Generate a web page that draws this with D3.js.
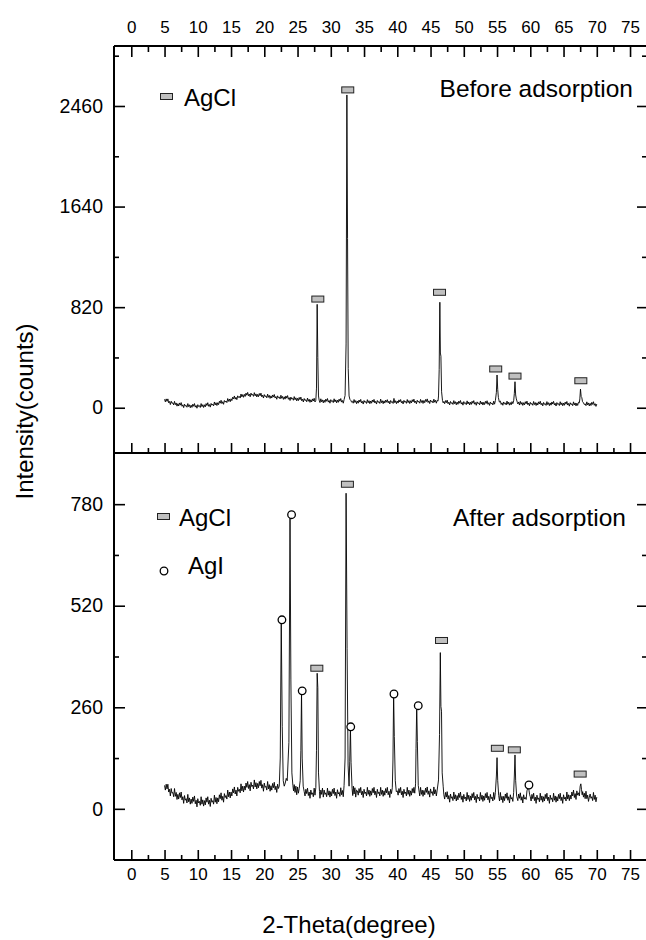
<!DOCTYPE html>
<html>
<head>
<meta charset="utf-8">
<script src="https://cdn.jsdelivr.net/npm/d3@7"></script>
<style>
html, body { margin: 0; padding: 0; background: #fff; }
svg { display: block; font-family: "Liberation Sans", Arial, Helvetica, sans-serif; }
</style>
</head>
<body>
<svg id="chart" width="646" height="940"></svg>
<script>
// XRD scan before adsorption: [2-theta (deg), intensity (counts)]
const beforeScan = [
[5.0,69],[5.125,48],[5.25,72],[5.375,52],[5.5,72],[5.625,40],[5.75,51],[5.875,26],
[6.0,53],[6.125,36],[6.25,40],[6.375,23],[6.5,52],[6.625,25],[6.75,39],[6.875,13],
[7.0,33],[7.125,14],[7.25,39],[7.375,21],[7.5,42],[7.625,12],[7.75,24],[7.875,1],
[8.0,29],[8.125,14],[8.25,19],[8.375,4],[8.5,34],[8.625,9],[8.75,24],[8.875,0],
[9.0,21],[9.125,3],[9.25,29],[9.375,12],[9.5,34],[9.625,5],[9.75,18],[9.875,-4],
[10.0,25],[10.125,10],[10.25,17],[10.375,2],[10.5,34],[10.625,9],[10.75,25],[10.875,2],
[11.0,24],[11.125,7],[11.25,34],[11.375,18],[11.5,41],[11.625,12],[11.75,26],[11.875,5],
[12.0,35],[12.125,21],[12.25,29],[12.375,15],[12.5,47],[12.625,23],[12.75,41],[12.875,18],
[13.0,41],[13.125,25],[13.25,53],[13.375,37],[13.5,61],[13.625,34],[13.75,49],[13.875,28],
[14.0,59],[14.125,46],[14.25,55],[14.375,42],[14.5,75],[14.625,52],[14.75,71],[14.875,49],
[15.0,73],[15.125,58],[15.25,86],[15.375,72],[15.5,96],[15.625,70],[15.75,85],[15.875,66],
[16.0,97],[16.125,84],[16.25,92],[16.375,79],[16.5,112],[16.625,89],[16.75,107],[16.875,85],
[17.0,109],[17.125,92],[17.25,119],[17.375,102],[17.5,125],[17.625,97],[17.75,111],[17.875,89],
[18.0,119],[18.125,103],[18.25,109],[18.375,93],[18.5,123],[18.625,97],[18.75,113],[18.875,88],
[19.0,109],[19.125,90],[19.25,116],[19.375,98],[19.5,119],[19.625,89],[19.75,102],[19.875,79],
[20.0,107],[20.125,91],[20.25,97],[20.375,81],[20.5,111],[20.625,85],[20.75,101],[20.875,76],
[21.0,97],[21.125,79],[21.25,104],[21.375,87],[21.5,108],[21.625,79],[21.75,91],[21.875,69],
[22.0,97],[22.125,82],[22.25,87],[22.375,72],[22.5,102],[22.625,77],[22.75,92],[22.875,68],
[23.0,89],[23.125,70],[23.25,96],[23.375,78],[23.5,99],[23.625,69],[23.75,82],[23.875,59],
[24.0,87],[24.125,71],[24.25,77],[24.375,61],[24.5,91],[24.625,65],[24.75,81],[24.875,56],
[25.0,77],[25.125,58],[25.25,84],[25.375,66],[25.5,87],[25.625,57],[25.75,70],[25.875,47],
[26.0,75],[26.125,59],[26.25,65],[26.375,49],[26.5,79],[26.625,53],[26.75,69],[26.875,44],
[27.0,65],[27.125,47],[27.25,72],[27.375,55],[27.5,77],[27.625,47],[27.75,60],
[27.85,160],[27.95,843],[28.05,410],[28.15,96],[28.25,62],[28.375,42],
[28.5,73],[28.625,48],[28.75,64],[28.875,40],
[29.0,62],[29.125,44],[29.25,70],[29.375,53],[29.5,75],[29.625,46],[29.75,59],[29.875,37],
[30.0,66],[30.125,51],[30.25,57],[30.375,42],[30.5,73],[30.625,48],[30.75,64],[30.875,40],
[31.0,62],[31.125,44],[31.25,70],[31.375,53],[31.5,75],[31.625,46],[31.75,59],[31.875,37],
[32.0,66],[32.15,100],
[32.3,520],[32.42,2550],[32.52,1380],[32.62,320],[32.75,96],[32.875,68],
[33.0,61],[33.125,46],[33.25,52],[33.375,37],[33.5,67],[33.625,43],[33.75,58],[33.875,33],
[34.0,55],[34.125,37],[34.25,63],[34.375,46],[34.5,68],[34.625,39],[34.75,52],[34.875,30],
[35.0,59],[35.125,44],[35.25,50],[35.375,35],[35.5,66],[35.625,41],[35.75,57],[35.875,33],
[36.0,55],[36.125,37],[36.25,63],[36.375,46],[36.5,68],[36.625,39],[36.75,52],[36.875,30],
[37.0,59],[37.125,44],[37.25,50],[37.375,35],[37.5,70],[37.625,41],[37.75,57],[37.875,33],
[38.0,56],[38.125,38],[38.25,62],[38.375,45],[38.5,66],[38.625,40],[38.75,54],[38.875,31],
[39.0,59],[39.125,44],[39.25,50],[39.375,35],[39.5,76],[39.625,41],[39.75,57],[39.875,33],
[40.0,54],[40.125,38],[40.25,64],[40.375,47],[40.5,67],[40.625,40],[40.75,53],[40.875,31],
[41.0,60],[41.125,45],[41.25,51],[41.375,36],[41.5,67],[41.625,42],[41.75,58],[41.875,34],
[42.0,57],[42.125,39],[42.25,65],[42.375,48],[42.5,70],[42.625,41],[42.75,54],[42.875,32],
[43.0,61],[43.125,46],[43.25,52],[43.375,37],[43.5,68],[43.625,43],[43.75,59],[43.875,35],
[44.0,59],[44.125,41],[44.25,67],[44.375,50],[44.5,72],[44.625,43],[44.75,56],[44.875,34],
[45.0,63],[45.125,48],[45.25,54],[45.375,39],[45.5,70],[45.625,45],[45.75,61],[45.875,37],
[46.0,60],[46.125,54],[46.2,96],
[46.3,310],[46.4,860],[46.48,446],[46.56,420],[46.66,130],[46.8,58],[46.9,40],
[47.0,51],[47.125,33],[47.25,58],[47.375,41],[47.5,62],[47.625,33],[47.75,45],[47.875,23],
[48.0,51],[48.125,36],[48.25,42],[48.375,27],[48.5,58],[48.625,33],[48.75,49],[48.875,24],
[49.0,46],[49.125,28],[49.25,54],[49.375,37],[49.5,59],[49.625,30],[49.75,43],[49.875,21],
[50.0,50],[50.125,34],[50.25,40],[50.375,25],[50.5,56],[50.625,31],[50.75,47],[50.875,23],
[51.0,45],[51.125,27],[51.25,53],[51.375,36],[51.5,58],[51.625,29],[51.75,42],[51.875,20],
[52.0,48],[52.125,33],[52.25,39],[52.375,24],[52.5,55],[52.625,30],[52.75,46],[52.875,22],
[53.0,44],[53.125,26],[53.25,52],[53.375,35],[53.5,57],[53.625,28],[53.75,41],[53.875,19],
[54.0,47],[54.125,32],[54.25,38],[54.375,23],[54.5,54],[54.625,29],[54.75,58],
[54.9,125],[55.0,267],[55.1,150],[55.2,84],[55.35,46],
[55.5,54],[55.625,27],[55.75,40],[55.875,20],
[56.0,47],[56.125,32],[56.25,38],[56.375,23],[56.5,54],[56.625,29],[56.75,45],[56.875,21],
[57.0,42],[57.125,24],[57.25,50],[57.375,33],[57.5,56],
[57.6,115],[57.7,212],[57.8,104],[57.9,72],[58.05,44],
[58.125,31],[58.25,47],[58.375,22],[58.5,52],[58.625,28],[58.75,43],[58.875,19],
[59.0,41],[59.125,23],[59.25,49],[59.375,32],[59.5,54],[59.625,25],[59.75,38],[59.875,16],
[60.0,44],[60.125,29],[60.25,35],[60.375,20],[60.5,51],[60.625,26],[60.75,42],[60.875,18],
[61.0,40],[61.125,22],[61.25,48],[61.375,31],[61.5,53],[61.625,24],[61.75,37],[61.875,15],
[62.0,43],[62.125,28],[62.25,34],[62.375,19],[62.5,50],[62.625,25],[62.75,41],[62.875,17],
[63.0,39],[63.125,21],[63.25,47],[63.375,30],[63.5,52],[63.625,23],[63.75,36],[63.875,14],
[64.0,42],[64.125,27],[64.25,33],[64.375,18],[64.5,49],[64.625,24],[64.75,40],[64.875,16],
[65.0,38],[65.125,20],[65.25,46],[65.375,29],[65.5,51],[65.625,22],[65.75,35],[65.875,13],
[66.0,41],[66.125,26],[66.25,32],[66.375,17],[66.5,48],[66.625,23],[66.75,39],[66.875,15],
[67.0,37],[67.125,19],[67.25,45],[67.375,40],[67.45,72],
[67.55,152],[67.65,92],[67.75,82],[67.85,50],[68.0,40],
[68.125,26],[68.25,32],[68.375,17],[68.5,48],[68.625,23],[68.75,39],[68.875,15],
[69.0,36],[69.125,18],[69.25,44],[69.375,27],[69.5,49],[69.625,20],[69.75,33],[69.875,11],[70.0,30]
];

// XRD scan after adsorption: [2-theta (deg), intensity (counts)]
const afterScan = [
[5.0,60],[5.125,48],[5.25,63],[5.375,51],[5.5,63],[5.625,43],[5.75,50],[5.875,33],
[6.0,52],[6.125,40],[6.25,42],[6.375,31],[6.5,52],[6.625,32],[6.75,42],[6.875,24],
[7.0,37],[7.125,25],[7.25,41],[7.375,29],[7.5,43],[7.625,23],[7.75,31],[7.875,14],
[8.0,34],[8.125,22],[8.25,26],[8.375,15],[8.5,37],[8.625,18],[8.75,28],[8.875,12],
[9.0,25],[9.125,14],[9.25,30],[9.375,19],[9.5,33],[9.625,13],[9.75,22],[9.875,5],
[10.0,26],[10.125,15],[10.25,19],[10.375,9],[10.5,31],[10.625,12],[10.75,23],[10.875,7],
[11.0,21],[11.125,10],[11.25,28],[11.375,17],[11.5,31],[11.625,12],[11.75,22],[11.875,6],
[12.0,27],[12.125,17],[12.25,21],[12.375,12],[12.5,35],[12.625,17],[12.75,29],[12.875,13],
[13.0,28],[13.125,18],[13.25,36],[13.375,26],[13.5,41],[13.625,22],[13.75,32],[13.875,17],
[14.0,39],[14.125,29],[14.25,34],[14.375,25],[14.5,48],[14.625,31],[14.75,43],[14.875,28],
[15.0,43],[15.125,33],[15.25,51],[15.375,41],[15.5,56],[15.625,38],[15.75,48],[15.875,33],
[16.0,55],[16.125,45],[16.25,50],[16.375,41],[16.5,64],[16.625,46],[16.75,58],[16.875,43],
[17.0,58],[17.125,48],[17.25,66],[17.375,55],[17.5,70],[17.625,52],[17.75,62],[17.875,46],
[18.0,68],[18.125,57],[18.25,61],[18.375,51],[18.5,74],[18.625,56],[18.75,67],[18.875,51],
[19.0,65],[19.125,54],[19.25,70],[19.375,59],[19.5,73],[19.625,53],[19.75,62],[19.875,45],
[20.0,66],[20.125,55],[20.25,58],[20.375,48],[20.5,70],[20.625,51],[20.75,62],[20.875,45],
[21.0,59],[21.125,48],[21.25,65],[21.375,54],[21.5,68],[21.625,49],[21.75,58],[21.875,42],
[22.0,63],[22.125,52],[22.25,58],
[22.4,130],[22.55,482],[22.7,210],[22.85,72],[23.0,58],[23.15,66],[23.3,78],[23.45,72],
[23.7,170],[23.87,748],[24.0,330],[24.15,92],[24.3,60],[24.4,46],[24.5,62],[24.625,42],[24.75,58],[24.875,36],
[25.0,56],[25.125,40],[25.25,52],[25.4,72],
[25.5,150],[25.6,300],[25.7,130],[25.85,58],
[26.0,44],[26.125,33],[26.25,50],[26.375,39],[26.5,53],[26.625,34],[26.75,43],[26.875,27],
[27.0,48],[27.125,37],[27.25,41],[27.375,31],[27.5,53],[27.625,35],[27.75,54],
[27.85,150],[27.95,347],[28.05,310],[28.15,92],[28.3,44],[28.375,27],
[28.5,48],[28.625,37],[28.75,53],[28.875,30],
[29.0,48],[29.125,37],[29.25,41],[29.375,31],[29.5,53],[29.625,35],[29.75,46],[29.875,30],
[30.0,44],[30.125,33],[30.25,50],[30.375,39],[30.5,53],[30.625,34],[30.75,43],[30.875,27],
[31.0,49],[31.125,38],[31.25,42],[31.375,32],[31.5,54],[31.625,36],[31.75,47],[31.875,31],
[32.0,60],
[32.15,130],[32.3,808],[32.45,410],[32.6,112],[32.75,58],[32.85,122],[32.95,209],[33.05,118],[33.2,52],
[33.3,34],[33.4,58],[33.5,38],[33.625,54],[33.75,30],[33.875,48],
[34.0,46],[34.125,35],[34.25,52],[34.375,41],[34.5,55],[34.625,36],[34.75,45],[34.875,29],
[35.0,50],[35.125,39],[35.25,43],[35.375,33],[35.5,55],[35.625,37],[35.75,48],[35.875,32],
[36.0,46],[36.125,35],[36.25,52],[36.375,41],[36.5,55],[36.625,36],[36.75,45],[36.875,29],
[37.0,50],[37.125,39],[37.25,43],[37.375,33],[37.5,55],[37.625,37],[37.75,48],[37.875,32],
[38.0,46],[38.125,35],[38.25,52],[38.375,41],[38.5,55],[38.625,36],[38.75,45],[38.875,29],
[39.0,50],[39.125,39],[39.25,54],
[39.35,125],[39.45,294],[39.55,185],[39.7,72],[39.85,44],
[40.0,46],[40.125,35],[40.25,52],[40.375,41],[40.5,55],[40.625,36],[40.75,45],[40.875,29],
[41.0,50],[41.125,39],[41.25,43],[41.375,33],[41.5,55],[41.625,37],[41.75,48],[41.875,32],
[42.0,46],[42.125,35],[42.25,52],[42.375,41],[42.5,55],[42.625,40],[42.75,64],
[42.82,155],[42.92,264],[43.02,172],[43.15,60],[43.3,42],
[43.375,33],[43.5,55],[43.625,37],[43.75,48],[43.875,32],
[44.0,47],[44.125,36],[44.25,53],[44.375,42],[44.5,56],[44.625,37],[44.75,46],[44.875,30],
[45.0,51],[45.125,40],[45.25,44],[45.375,34],[45.5,56],[45.625,38],[45.75,49],[45.875,33],
[46.0,48],[46.2,74],
[46.35,190],[46.47,400],[46.56,262],[46.65,250],[46.75,92],[46.9,58],
[47.0,36],[47.125,25],[47.25,42],[47.375,30],[47.5,44],[47.625,25],[47.75,34],[47.875,17],
[48.0,38],[48.125,27],[48.25,31],[48.375,21],[48.5,43],[48.625,25],[48.75,36],[48.875,20],
[49.0,34],[49.125,23],[49.25,40],[49.375,29],[49.5,43],[49.625,24],[49.75,33],[49.875,17],
[50.0,37],[50.125,26],[50.25,30],[50.375,20],[50.5,42],[50.625,24],[50.75,35],[50.875,19],
[51.0,33],[51.125,22],[51.25,39],[51.375,28],[51.5,42],[51.625,23],[51.75,32],[51.875,16],
[52.0,37],[52.125,26],[52.25,30],[52.375,20],[52.5,42],[52.625,24],[52.75,35],[52.875,19],
[53.0,33],[53.125,22],[53.25,39],[53.375,28],[53.5,42],[53.625,23],[53.75,32],[53.875,16],
[54.0,37],[54.125,26],[54.25,30],[54.375,20],[54.5,42],[54.625,24],[54.75,42],
[54.9,84],[55.0,131],[55.1,72],[55.25,34],
[55.375,20],[55.5,42],[55.625,23],[55.75,32],[55.875,16],
[56.0,32],[56.125,21],[56.25,38],[56.375,27],[56.5,41],[56.625,22],[56.75,31],[56.875,15],
[57.0,36],[57.125,25],[57.25,29],[57.375,19],[57.5,42],
[57.6,84],[57.7,138],[57.8,72],[57.95,32],
[58.125,21],[58.25,38],[58.375,27],[58.5,41],[58.625,22],[58.75,31],[58.875,15],
[59.0,36],[59.125,25],[59.25,29],[59.375,24],[59.5,46],[59.6,52],[59.7,60],[59.8,48],[59.9,36],
[60.0,31],[60.125,20],[60.25,37],[60.375,26],[60.5,40],[60.625,21],[60.75,30],[60.875,14],
[61.0,35],[61.125,24],[61.25,28],[61.375,18],[61.5,40],[61.625,22],[61.75,33],[61.875,17],
[62.0,31],[62.125,20],[62.25,37],[62.375,26],[62.5,40],[62.625,21],[62.75,30],[62.875,14],
[63.0,35],[63.125,24],[63.25,28],[63.375,18],[63.5,40],[63.625,22],[63.75,33],[63.875,17],
[64.0,31],[64.125,20],[64.25,37],[64.375,26],[64.5,40],[64.625,21],[64.75,30],[64.875,14],
[65.0,36],[65.125,25],[65.25,30],[65.375,20],[65.5,43],[65.625,25],[65.75,36],[65.875,21],
[66.0,35],[66.125,25],[66.25,43],[66.375,33],[66.5,48],[66.625,29],[66.75,39],[66.875,24],
[67.0,46],[67.125,35],[67.25,41],[67.375,33],[67.5,58],[67.6,64],[67.7,50],[67.8,36],[67.875,44],
[68.0,30],[68.125,40],[68.25,26],[68.375,45],[68.5,26],[68.625,35],[68.75,19],[68.875,30],
[69.0,38],[69.125,27],[69.25,31],[69.375,21],[69.5,42],[69.625,24],[69.75,35],[69.875,18],[70.0,30]
];

// Phase markers: [2-theta, intensity level of the marker]
const beforeAgCl = [[28.05,886],[32.55,2591],[46.35,941],[54.8,316],[57.7,258],[67.6,220]];
const afterAgCl  = [[27.9,360],[32.5,831],[46.65,431],[55.05,155],[57.6,151],[67.5,89]];
const afterAgI   = [[22.65,484],[24.1,753],[25.7,302],[33.0,210],[39.5,294],[43.15,264],[59.8,61]];

// Tick values
const xMajorTicks = [0,5,10,15,20,25,30,35,40,45,50,55,60,65,70,75];
const xMinorTicks = [2.5,7.5,12.5,17.5,22.5,27.5,32.5,37.5,42.5,47.5,52.5,57.5,62.5,67.5,72.5];
const topMajorTicks = [0,820,1640,2460];
const topMinorTicks = [410,1230,2050,2870];
const botMajorTicks = [0,260,520,780];
const botMinorTicks = [130,390,650];

// Text
const xTitle = "2-Theta(degree)";
const yTitle = "Intensity(counts)";
const topPanelLabel = "Before adsorption";
const botPanelLabel = "After adsorption";
const agclName = "AgCl";
const agiName = "AgI";

const svg = d3.select("#chart");
const frame = { left: 114, right: 646, top: 46, mid: 453, bottom: 860 };

const x = d3.scaleLinear().domain([-2.6, 77.4]).range([frame.left, frame.right]);
const yTop = d3.scaleLinear().domain([-369, 2949]).range([frame.mid, frame.top]);
const yBot = d3.scaleLinear().domain([-131, 911]).range([frame.bottom, frame.mid]);

function styleAxis(g, fontSize) {
  g.select(".domain").remove();
  g.selectAll(".tick line").attr("stroke", "#000").attr("stroke-width", 1.6);
  g.selectAll(".tick text").attr("fill", "#000").attr("font-size", fontSize)
    .attr("font-family", "'Liberation Sans', Arial, sans-serif");
}

// ----- x axes -----
svg.append("g").attr("transform", `translate(0,${frame.top})`)
  .call(d3.axisTop(x).tickValues(xMajorTicks).tickSizeInner(-11).tickSizeOuter(0).tickPadding(13))
  .call(g => styleAxis(g, 17));
svg.append("g").attr("transform", `translate(0,${frame.top})`)
  .call(d3.axisTop(x).tickValues(xMinorTicks).tickSizeInner(-6).tickSizeOuter(0).tickFormat(""))
  .call(g => styleAxis(g, 17));

svg.append("g").attr("transform", `translate(0,${frame.mid})`)
  .call(d3.axisBottom(x).tickValues(xMajorTicks).tickSizeInner(-10).tickSizeOuter(0).tickFormat(""))
  .call(g => styleAxis(g, 17));
svg.append("g").attr("transform", `translate(0,${frame.mid})`)
  .call(d3.axisBottom(x).tickValues(xMinorTicks).tickSizeInner(-5).tickSizeOuter(0).tickFormat(""))
  .call(g => styleAxis(g, 17));

svg.append("g").attr("transform", `translate(0,${frame.bottom})`)
  .call(d3.axisBottom(x).tickValues(xMajorTicks).tickSizeInner(-10).tickSizeOuter(0).tickPadding(8))
  .call(g => styleAxis(g, 17));
svg.append("g").attr("transform", `translate(0,${frame.bottom})`)
  .call(d3.axisBottom(x).tickValues(xMinorTicks).tickSizeInner(-5).tickSizeOuter(0).tickFormat(""))
  .call(g => styleAxis(g, 17));

// ----- y axes (labels left, ticks on both sides pointing inward) -----
function yAxes(scale, major, minor) {
  svg.append("g").attr("transform", `translate(${frame.left},0)`)
    .call(d3.axisLeft(scale).tickValues(major).tickSizeInner(-11).tickSizeOuter(0).tickPadding(11).tickFormat(d3.format("d")))
    .call(g => styleAxis(g, 19.5));
  svg.append("g").attr("transform", `translate(${frame.left},0)`)
    .call(d3.axisLeft(scale).tickValues(minor).tickSizeInner(-5).tickSizeOuter(0).tickFormat(""))
    .call(g => styleAxis(g, 19.5));
  svg.append("g").attr("transform", `translate(${frame.right + 1},0)`)
    .call(d3.axisRight(scale).tickValues(major).tickSizeInner(-10).tickSizeOuter(0).tickFormat(""))
    .call(g => styleAxis(g, 19.5));
  svg.append("g").attr("transform", `translate(${frame.right + 1},0)`)
    .call(d3.axisRight(scale).tickValues(minor).tickSizeInner(-5).tickSizeOuter(0).tickFormat(""))
    .call(g => styleAxis(g, 19.5));
}
yAxes(yTop, topMajorTicks, topMinorTicks);
yAxes(yBot, botMajorTicks, botMinorTicks);

// ----- frame -----
const frameG = svg.append("g").attr("stroke", "#000").attr("stroke-width", 2);
frameG.append("line").attr("x1", frame.left).attr("x2", frame.left).attr("y1", frame.top).attr("y2", frame.bottom);
[frame.top, frame.mid, frame.bottom].forEach(yy => {
  frameG.append("line").attr("x1", frame.left).attr("x2", frame.right).attr("y1", yy).attr("y2", yy);
});

// ----- diffraction patterns -----
const lineTop = d3.line().x(d => x(d[0])).y(d => yTop(d[1]));
const lineBot = d3.line().x(d => x(d[0])).y(d => yBot(d[1]));
svg.append("path").datum(beforeScan).attr("d", lineTop)
  .attr("fill", "none").attr("stroke", "#000").attr("stroke-width", 0.9).attr("stroke-linejoin", "round");
svg.append("path").datum(afterScan).attr("d", lineBot)
  .attr("fill", "none").attr("stroke", "#000").attr("stroke-width", 0.9).attr("stroke-linejoin", "round");

// ----- phase markers -----
function agclMarkers(data, yScale) {
  svg.append("g").selectAll("rect").data(data).join("rect")
    .attr("x", d => x(d[0]) - 6).attr("y", d => yScale(d[1]) - 3)
    .attr("width", 12).attr("height", 6)
    .attr("fill", "#c0c0c0").attr("stroke", "#222").attr("stroke-width", 1);
}
function agiMarkers(data, yScale) {
  svg.append("g").selectAll("circle").data(data).join("circle")
    .attr("cx", d => x(d[0])).attr("cy", d => yScale(d[1])).attr("r", 3.8)
    .attr("fill", "#fff").attr("stroke", "#000").attr("stroke-width", 1.3);
}
agclMarkers(beforeAgCl, yTop);
agclMarkers(afterAgCl, yBot);
agiMarkers(afterAgI, yBot);

// ----- legends and panel labels -----
const txt = (tx, ty, s, size, anchor) => svg.append("text")
  .attr("x", tx).attr("y", ty).attr("font-size", size).attr("fill", "#000")
  .attr("text-anchor", anchor || "start").text(s);

svg.append("rect").attr("x", 160.5).attr("y", 93.5).attr("width", 12).attr("height", 6)
  .attr("fill", "#c0c0c0").attr("stroke", "#222").attr("stroke-width", 1);
txt(184, 106, agclName, 24);
txt(633, 97, topPanelLabel, 24.5, "end");

svg.append("rect").attr("x", 157.5).attr("y", 513.5).attr("width", 12).attr("height", 6)
  .attr("fill", "#c0c0c0").attr("stroke", "#222").attr("stroke-width", 1);
txt(179, 526, agclName, 24);
svg.append("circle").attr("cx", 164).attr("cy", 571).attr("r", 3.8)
  .attr("fill", "#fff").attr("stroke", "#000").attr("stroke-width", 1.3);
txt(188, 574, agiName, 24);
txt(626, 526, botPanelLabel, 24.5, "end");

// ----- axis titles -----
txt(349, 933, xTitle, 24, "middle");
svg.append("text").attr("transform", "translate(33,411.5) rotate(-90)")
  .attr("text-anchor", "middle").attr("font-size", 24).attr("fill", "#000").text(yTitle);
</script>
</body>
</html>
